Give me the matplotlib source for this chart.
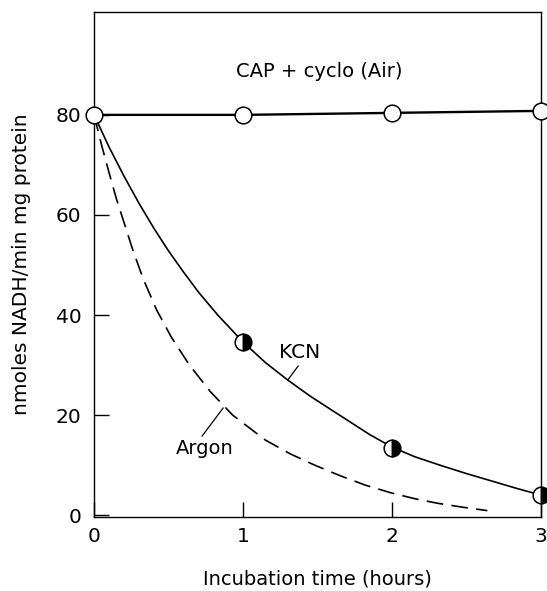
import matplotlib.pyplot as plt

plt.rcParams['font.family'] = ['DejaVu Sans']

# measured points
time_pts = [0, 1, 2, 3]
air_vals = [80, 80, 80.4, 80.8]
kcn_pts_t = [1, 2, 3]
kcn_vals = [34.6, 13.5, 4.0]

# hand-drawn curves
kcn_curve_t = [0, 0.1, 0.2, 0.3, 0.4, 0.5, 0.6, 0.7, 0.83, 1.0, 1.15, 1.3,
               1.45, 1.6, 1.72, 1.85, 2.0, 2.15, 2.32, 2.5, 2.66, 2.83, 3.0]
kcn_curve_y = [80, 73.6, 67.8, 62.4, 57.4, 52.8, 48.6, 44.6, 40, 34.6, 30.5, 27,
               23.8, 20.9, 18.6, 16.1, 13.6, 11.7, 10.0, 8.3, 6.9, 5.4, 4.0]
argon_t = [0, 0.05, 0.1, 0.15, 0.19, 0.26, 0.33, 0.42, 0.52, 0.64, 0.78, 0.93,
           1.15, 1.32, 1.48, 1.65, 1.82, 2.0, 2.15, 2.3, 2.47, 2.64]
argon_y = [80, 74, 68.5, 63.2, 59.5, 53, 47.2, 41, 35.5, 30, 24.7, 20,
           15, 12.2, 10, 7.9, 6, 4.4, 3.3, 2.4, 1.6, 0.9]

fig = plt.figure(figsize=(5.47, 5.91), dpi=100)
ax = fig.add_axes([0.172, 0.125, 0.817, 0.855])

ax.plot(kcn_curve_t, kcn_curve_y, color='black', lw=1.2)
ax.plot(argon_t, argon_y, color='black', lw=1.2, dashes=(10, 5))
ax.plot(time_pts, air_vals, color='black', lw=1.7, marker='o', ms=12,
        mfc='white', mec='black', mew=1.1, clip_on=False, zorder=5)
ax.plot(kcn_pts_t, kcn_vals, ls='none', marker='o', ms=12, fillstyle='left',
        mfc='white', markerfacecoloralt='black', mec='black', mew=1.1,
        clip_on=False, zorder=5)

ax.text(1.51, 88.6, 'CAP + cyclo (Air)', ha='center', va='center', fontsize=14)
ax.text(1.38, 32.6, 'KCN', ha='center', va='center', fontsize=14.5)
ax.plot([1.37, 1.30], [29.8, 27.0], color='black', lw=0.9)
ax.text(0.745, 13.4, 'Argon', ha='center', va='center', fontsize=14)
ax.plot([0.725, 0.866], [15.8, 21.4], color='black', lw=0.9)

ax.set_xlim(0, 3)
ax.set_ylim(-0.4, 100.6)
ax.set_xticks([0, 1, 2, 3])
ax.set_yticks([0, 20, 40, 60, 80])
ax.tick_params(direction='in', length=11, width=1, labelsize=14.5)
ax.tick_params(axis='x', pad=7)
ax.tick_params(axis='y', pad=9)
for s in ax.spines.values():
    s.set_linewidth(1.0)

ax.set_xlabel('Incubation time (hours)', fontsize=14, labelpad=17)
ax.set_ylabel('nmoles NADH/min mg protein', fontsize=14.5, labelpad=18)

fig.savefig('out.png', dpi=100)
